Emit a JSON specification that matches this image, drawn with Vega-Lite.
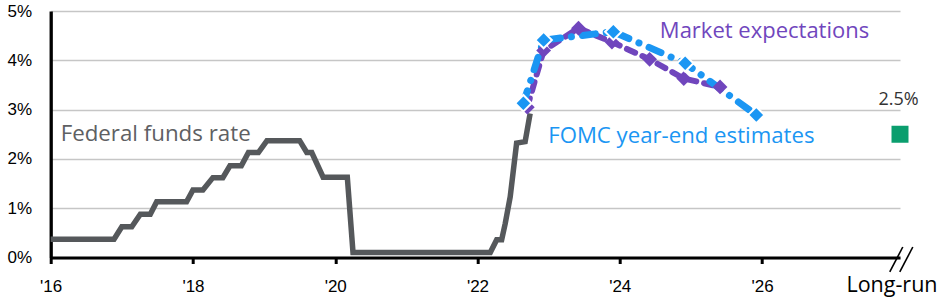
{
  "$schema": "https://vega.github.io/schema/vega-lite/v6.json",
  "autosize": {"type": "none"},
  "padding": {"left": 50.7, "top": 11, "right": 44, "bottom": 49.5},
  "width": 849.3,
  "height": 246.5,
  "background": "white",
  "config": {"view": {"stroke": null}},
  "datasets": {
    "ffr": [
      {"year": 2016.0, "rate": 0.37}, {"year": 2016.89, "rate": 0.37},
      {"year": 2017.0, "rate": 0.625}, {"year": 2017.14, "rate": 0.625},
      {"year": 2017.26, "rate": 0.876}, {"year": 2017.4, "rate": 0.876},
      {"year": 2017.49, "rate": 1.13}, {"year": 2017.91, "rate": 1.13},
      {"year": 2018.0, "rate": 1.37}, {"year": 2018.14, "rate": 1.37},
      {"year": 2018.28, "rate": 1.62}, {"year": 2018.42, "rate": 1.62},
      {"year": 2018.52, "rate": 1.86}, {"year": 2018.68, "rate": 1.86},
      {"year": 2018.78, "rate": 2.13}, {"year": 2018.92, "rate": 2.13},
      {"year": 2019.04, "rate": 2.37}, {"year": 2019.5, "rate": 2.37},
      {"year": 2019.6, "rate": 2.13}, {"year": 2019.67, "rate": 2.13},
      {"year": 2019.83, "rate": 1.63}, {"year": 2020.17, "rate": 1.63},
      {"year": 2020.25, "rate": 0.1}, {"year": 2022.18, "rate": 0.1},
      {"year": 2022.27, "rate": 0.36}, {"year": 2022.34, "rate": 0.36},
      {"year": 2022.39, "rate": 0.69}, {"year": 2022.46, "rate": 1.23},
      {"year": 2022.55, "rate": 2.32}, {"year": 2022.67, "rate": 2.35},
      {"year": 2022.74, "rate": 2.92}
    ],
    "market": [
      {"year": 2022.7, "rate": 3.05}, {"year": 2022.93, "rate": 4.2},
      {"year": 2023.42, "rate": 4.65}, {"year": 2023.89, "rate": 4.37},
      {"year": 2024.42, "rate": 4.02}, {"year": 2024.9, "rate": 3.63},
      {"year": 2025.41, "rate": 3.46}
    ],
    "fomc": [
      {"year": 2022.645, "rate": 3.13}, {"year": 2022.93, "rate": 4.41},
      {"year": 2023.91, "rate": 4.58}, {"year": 2024.92, "rate": 3.94},
      {"year": 2025.92, "rate": 2.89}
    ],
    "longrun": [{"year": 2027.94, "rate": 2.5}],
    "breakmarks": [
      {"year": 2027.796, "rate": -0.294, "year2": 2027.979, "rate2": 0.213},
      {"year": 2027.937, "rate": -0.294, "year2": 2028.12, "rate2": 0.213}
    ],
    "labels": [
      {"year": 2016.14, "rate": 2.369, "label": "Federal funds rate", "series": "ffr"},
      {"year": 2024.564, "rate": 4.446, "label": "Market expectations", "series": "market"},
      {"year": 2022.994, "rate": 2.316, "label": "FOMC year-end estimates", "series": "fomc"},
      {"year": 2027.92, "rate": 3.093, "label": "2.5%", "series": "note"}
    ]
  },
  "encoding": {
    "x": {
      "field": "year", "type": "quantitative",
      "scale": {"domain": [2016, 2027.94], "nice": false, "zero": false},
      "axis": {
        "title": null,
        "values": [2016, 2018, 2020, 2022, 2024, 2026, 2027.82],
        "labelExpr": "datum.value > 2027 ? 'Long-run' : \"'\" + slice(toString(datum.value), 2)",
        "grid": false,
        "domainColor": "#000000", "domainWidth": 3,
        "tickColor": {"condition": {"test": "datum.value > 2027", "value": "transparent"}, "value": "#000000"},
        "tickSize": 6, "tickWidth": 3,
        "labelFont": {"condition": {"test": "datum.value > 2027", "value": "Open Sans"}, "value": "Liberation Sans"},
        "labelFontSize": {"condition": {"test": "datum.value > 2027", "value": 21.5}, "value": 17},
        "labelColor": "#000000",
        "labelBaseline": "alphabetic",
        "labelPadding": 28,
        "labelFlush": false,
        "labelOverlap": false
      }
    },
    "y": {
      "field": "rate", "type": "quantitative",
      "scale": {"domain": [0, 5], "nice": false, "zero": false},
      "axis": {
        "title": null,
        "values": [0, 1, 2, 3, 4, 5],
        "labelExpr": "datum.value + '%'",
        "grid": true, "gridColor": "#c6c6c6", "gridWidth": 1.3,
        "ticks": false,
        "domainColor": "#000000", "domainWidth": 3.3,
        "labelPadding": 19,
        "labelFont": "Liberation Sans", "labelFontSize": 17, "labelColor": "#000000"
      }
    }
  },
  "layer": [
    {"data": {"name": "ffr"}, "mark": {"type": "line", "color": "#55585b", "strokeWidth": 5.5, "strokeJoin": "miter", "clip": false}},
    {"data": {"name": "market"}, "mark": {"type": "line", "color": "#7046bd", "strokeWidth": 6, "strokeDash": [9, 8], "strokeCap": "round"}},
    {"data": {"name": "fomc"}, "mark": {"type": "line", "color": "#1b96f3", "strokeWidth": 7, "strokeDash": [13, 11, 0.1, 11], "strokeCap": "round"}},
    {"data": {"name": "market"}, "mark": {"type": "point", "shape": "diamond", "filled": true, "color": "#7046bd", "size": 220, "opacity": 1}},
    {"data": {"name": "fomc"}, "mark": {"type": "point", "shape": "diamond", "filled": true, "color": "#1b96f3", "size": 270, "stroke": "#ffffff", "strokeWidth": 2, "opacity": 1}},
    {"data": {"name": "longrun"}, "mark": {"type": "point", "shape": "square", "filled": true, "color": "#0a9e6e", "size": 289, "opacity": 1}},
    {"data": {"name": "breakmarks"}, "mark": {"type": "rule", "color": "#000000", "strokeWidth": 1.6, "clip": false}, "encoding": {"x2": {"field": "year2"}, "y2": {"field": "rate2"}}},
    {"data": {"name": "labels"}, "transform": [{"filter": "datum.series === 'ffr'"}], "mark": {"type": "text", "align": "left", "baseline": "alphabetic", "font": "Open Sans", "fontSize": 22.3, "color": "#5e6063"}, "encoding": {"text": {"field": "label"}}},
    {"data": {"name": "labels"}, "transform": [{"filter": "datum.series === 'market'"}], "mark": {"type": "text", "align": "left", "baseline": "alphabetic", "font": "Open Sans", "fontSize": 22, "color": "#7046bd"}, "encoding": {"text": {"field": "label"}}},
    {"data": {"name": "labels"}, "transform": [{"filter": "datum.series === 'fomc'"}], "mark": {"type": "text", "align": "left", "baseline": "alphabetic", "font": "Open Sans", "fontSize": 22.2, "color": "#1b96f3"}, "encoding": {"text": {"field": "label"}}},
    {"data": {"name": "labels"}, "transform": [{"filter": "datum.series === 'note'"}], "mark": {"type": "text", "align": "center", "baseline": "alphabetic", "font": "Open Sans", "fontSize": 18, "color": "#333333"}, "encoding": {"text": {"field": "label"}}}
  ]
}
